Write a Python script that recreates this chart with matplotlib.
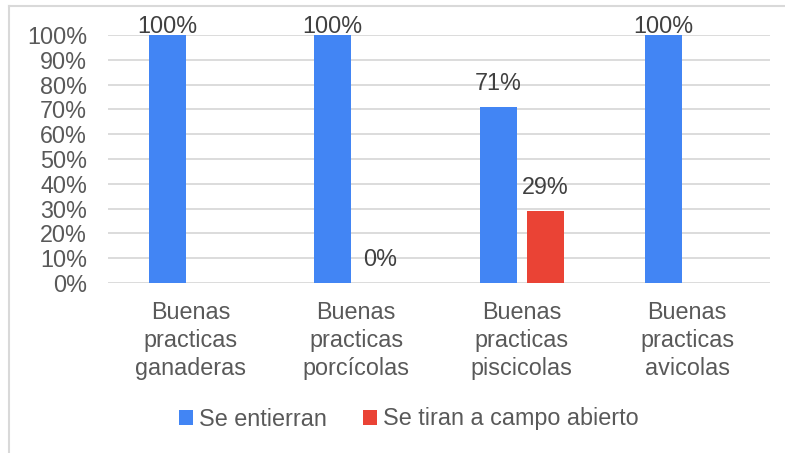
import matplotlib
matplotlib.use('Agg')
import matplotlib.pyplot as plt
import numpy as np

categories = ['Buenas\npracticas\nganaderas', 'Buenas\npracticas\nporcícolas',
              'Buenas\npracticas\npiscicolas', 'Buenas\npracticas\navicolas']
series_names = ['Se entierran', 'Se tiran a campo abierto']
entierran = [100, 100, 71, 100]
campo = [None, 0, 29, None]

BLUE = '#4285F4'
RED = '#EA4335'
TXT = '#595959'
GRID = '#D9D9D9'
FS = 16.8

plt.rcParams['font.family'] = ['Liberation Sans', 'DejaVu Sans']

fig = plt.figure(figsize=(7.85, 4.53), dpi=100)
ax = fig.add_axes([108/785, 1-283/453, 662/785, 248/453])

x = np.arange(len(categories))
w = 0.224
off = 0.142

ev = [v if v is not None else 0 for v in entierran]
cv = [v if v is not None else 0 for v in campo]
ax.bar(x - off, ev, w, color=BLUE, label=series_names[0], zorder=3)
ax.bar(x + off, cv, w, color=RED, label=series_names[1], zorder=3)

for i, v in enumerate(entierran):
    if v is None:
        continue
    dy = 1.5 if v >= 100 else 12
    ax.annotate(f'{v}%', (x[i] - off, v), xytext=(0, dy), textcoords='offset points',
                ha='center', va='baseline', fontsize=FS, color='#404040')
for i, v in enumerate(campo):
    if v is None:
        continue
    ax.annotate(f'{v}%', (x[i] + off, v), xytext=(0, 12), textcoords='offset points',
                ha='center', va='baseline', fontsize=FS, color='#404040')

ax.set_xlim(-0.5, len(categories) - 0.5)
ax.set_ylim(0, 100)
ax.set_yticks(range(0, 101, 10))
ax.set_yticklabels([f'{t}%' for t in range(0, 101, 10)])
ax.set_xticks(x)
ax.set_xticklabels(categories, linespacing=1.27)
ax.tick_params(axis='both', length=0, labelsize=FS, labelcolor=TXT)
ax.tick_params(axis='x', pad=13)
ax.tick_params(axis='y', pad=15)
ax.yaxis.grid(True, color=GRID, linewidth=1.3, zorder=0)
ax.set_axisbelow(True)
for s in ax.spines.values():
    s.set_visible(False)

leg = fig.legend(loc='center', bbox_to_anchor=(409/785, 1-419/453), ncol=2, frameon=False,
                 fontsize=FS, handlelength=0.6, handleheight=0.6, handletextpad=0.25,
                 columnspacing=1.55)
for t in leg.get_texts():
    t.set_color(TXT)

# outer chart border (left and top visible)
fig.add_artist(plt.Line2D([9/785, 9/785], [0, 1-6/453], color='#D9D9D9', linewidth=1.5,
                          transform=fig.transFigure))
fig.add_artist(plt.Line2D([9/785, 1], [1-6/453, 1-6/453], color='#D9D9D9', linewidth=1.5,
                          transform=fig.transFigure))

fig.savefig('out.png', dpi=100, facecolor='white')
